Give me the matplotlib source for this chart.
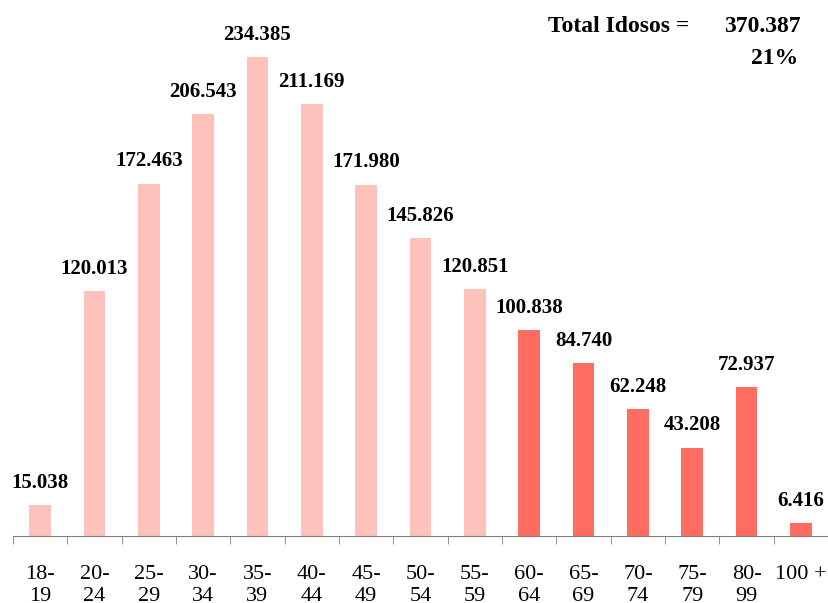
import matplotlib.pyplot as plt
import numpy as np

plt.rcParams["font.family"] = ["Liberation Serif", "DejaVu Serif"]

faixas = ["18-\n19", "20-\n24", "25-\n29", "30-\n34", "35-\n39", "40-\n44", "45-\n49",
          "50-\n54", "55-\n59", "60-\n64", "65-\n69", "70-\n74", "75-\n79", "80-\n99", "100 +"]
valores = [15038, 120013, 172463, 206543, 234385, 211169, 171980,
           145826, 120851, 100838, 84740, 62248, 43208, 72937, 6416]
idoso = [False] * 9 + [True] * 6
total_idosos = "370.387"
pct_idosos = "21%"

COR_CLARA = "#FFC1BC"
COR_ESCURA = "#FF6C61"

fig = plt.figure(figsize=(8.29, 6.03), dpi=100)
ax = fig.add_axes([13 / 829, 67 / 603, 815 / 829, 536 / 603])

x = np.arange(len(valores))
cores = [COR_ESCURA if i else COR_CLARA for i in idoso]
ax.bar(x, valores, width=0.4, color=cores)

for xi, v in zip(x, valores):
    rot = f"{v:,}".replace(",", ".")
    ax.annotate(rot, (xi, v), xytext=(0, 16), textcoords="offset points",
                ha="center", va="center", fontsize=15, fontweight="bold")

ax.set_xlim(-0.5, len(valores) - 0.5)
ax.set_ylim(0, 262300)

for s in ["top", "right", "left"]:
    ax.spines[s].set_visible(False)
ax.spines["bottom"].set_color("#808080")
ax.set_yticks([])

ax.set_xticks(x)
ax.set_xticklabels(faixas, fontsize=16, linespacing=1.2)
ax.tick_params(axis="x", which="major", length=0, pad=21)
ax.set_xticks(np.arange(-0.5, len(valores), 1), minor=True)
ax.tick_params(axis="x", which="minor", length=6, color="#808080", direction="out")

fig.text(619 / 829, 1 - 27 / 603, "Total Idosos =", ha="center", va="center",
         fontsize=17, fontweight="bold")
fig.text(762 / 829, 1 - 27 / 603, total_idosos, ha="center", va="center",
         fontsize=17, fontweight="bold")
fig.text(775 / 829, 1 - 58 / 603, pct_idosos, ha="center", va="center",
         fontsize=17, fontweight="bold")

fig.savefig("out.png", dpi=100, facecolor="white")
